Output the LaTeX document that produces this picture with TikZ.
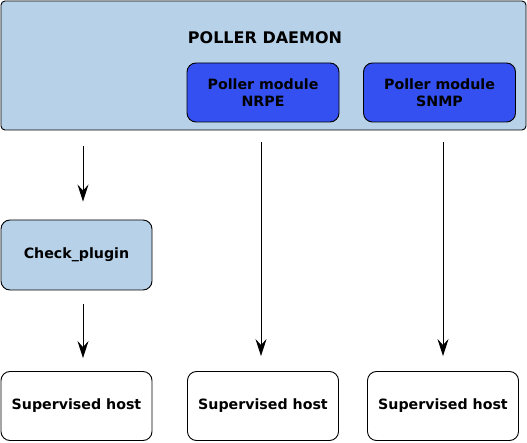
\documentclass[tikz,border=0pt]{standalone}
\usepackage{fontspec}
\setmainfont{DejaVu Sans}
\usetikzlibrary{arrows.meta}

\definecolor{daemonblue}{RGB}{183,209,233}
\definecolor{moduleblue}{RGB}{52,80,240}

\tikzset{
  box/.style={draw=black, line width=0.9pt, rounded corners=9pt, inner sep=0pt,
    align=center, font=\fontsize{14.2}{17}\selectfont\bfseries},
  modulebox/.style={box, fill=moduleblue, minimum width=152pt, minimum height=59pt},
  hostbox/.style={box, fill=white, minimum width=151pt, minimum height=69pt},
  arr/.style={line width=1pt, -{Stealth[length=17pt, width=11pt, inset=6pt]}}
}

\begin{document}
\begin{tikzpicture}[x=1pt, y=1pt]
  \useasboundingbox (0,0) rectangle (527,442);

  % daemon and its modules
  \node [box, fill=daemonblue, rounded corners=4pt, minimum width=525pt, minimum height=129pt] (daemon) at (263.5,376.5) {};
  \node [font=\fontsize{16}{19}\selectfont\bfseries] (title) at (265,404) {POLLER DAEMON};
  \node [modulebox] (nrpe) at (263,349.5) {Poller module\\NRPE};
  \node [modulebox] (snmp) at (439.5,349.5) {Poller module\\SNMP};

  % plugin
  \node [box, fill=daemonblue, minimum width=151pt, minimum height=70pt] (check) at (76.5,187) {Check\_plugin};

  % hosts
  \node [hostbox] (host1) at (76.5,36) {Supervised host};
  \node [hostbox] (host2) at (263,36) {Supervised host};
  \node [hostbox] (host3) at (443,36) {Supervised host};

  % arrows
  \draw [arr, shorten <=16pt, shorten >=18pt] ([xshift=6.5pt]daemon.south -| check.north) -- ([xshift=6.5pt]check.north);
  \draw [arr, shorten <=14pt, shorten >=13pt] ([xshift=6.5pt]check.south) -- ([xshift=6.5pt]host1.north);
  \draw [arr, shorten <=20pt, shorten >=15pt] ([xshift=-2pt]nrpe.south) -- ([xshift=-2pt]host2.north);
  \draw [arr, shorten <=20pt, shorten >=15pt] (snmp.south -| host3.north) -- (host3.north);
\end{tikzpicture}
\end{document}
